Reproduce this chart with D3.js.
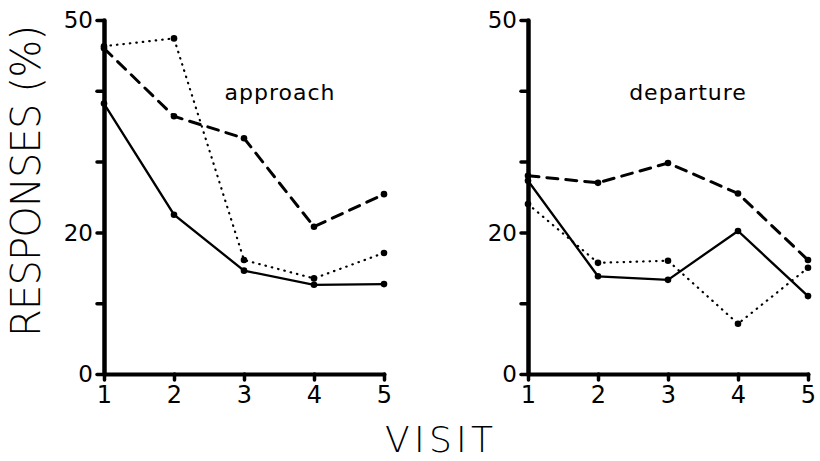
<!DOCTYPE html>
<html>
<head>
<meta charset="utf-8">
<script src="https://cdn.jsdelivr.net/npm/d3@7"></script>
<style>
  body { margin: 0; background: #fff; }
  svg text { font-family: "DejaVu Sans", sans-serif; fill: #000; }
</style>
</head>
<body>
<div id="chart"></div>
<script>
// Data
const visits = [1, 2, 3, 4, 5];
const yTicks = [0, 10, 20, 30, 40, 50];
const yLabels = [0, 20, 50];

const approachSolid  = [38.2, 22.5, 14.6, 12.6, 12.7];
const approachDashed = [46.0, 36.4, 33.3, 20.8, 25.4];
const approachDotted = [46.3, 47.4, 16.1, 13.5, 17.1];

const departureSolid  = [27.3, 13.8, 13.3, 20.2, 11.0];
const departureDashed = [28.0, 27.0, 29.8, 25.5, 16.1];
const departureDotted = [24.0, 15.7, 16.0, 7.1, 15.0];

const panels = [
  {title: "approach", left: 104, titleX: 280,
   series: [{v: approachSolid, style: "solid"}, {v: approachDashed, style: "dashed"}, {v: approachDotted, style: "dotted"}]},
  {title: "departure", left: 528, titleX: 688,
   series: [{v: departureSolid, style: "solid"}, {v: departureDashed, style: "dashed"}, {v: departureDotted, style: "dotted"}]}
];

const width = 820, height = 461;
const svg = d3.select("#chart").append("svg")
  .attr("width", width)
  .attr("height", height);

const y = d3.scaleLinear().domain([0, 50]).range([374, 20]);

const lineStyles = {
  solid:  {w: 2.3, dash: null},
  dashed: {w: 3,   dash: "11,8"},
  dotted: {w: 2.2, dash: "0.5,6"}
};

panels.forEach(p => {
  const x = d3.scaleLinear().domain([1, 5]).range([p.left, p.left + 280]);
  const g = svg.append("g");

  // y axis
  const ya = g.append("g")
    .attr("transform", `translate(${p.left},0)`)
    .call(d3.axisLeft(y).tickValues(yTicks).tickSize(7).tickSizeOuter(0)
      .tickFormat(d => yLabels.includes(d) ? d : ""));
  ya.select(".domain").attr("stroke-width", 4.5).attr("stroke-linecap", "round");
  ya.selectAll(".tick line").attr("stroke-width", 3.5).attr("stroke-linecap", "round");
  ya.selectAll(".tick text").attr("font-size", 23).attr("x", -11).attr("dy", "0.34em");

  // x axis
  const xa = g.append("g")
    .attr("transform", `translate(0,${y(0)})`)
    .call(d3.axisBottom(x).tickValues(visits).tickSize(6).tickSizeOuter(0).tickFormat(d3.format("d")));
  xa.select(".domain").attr("stroke-width", 4).attr("stroke-linecap", "round");
  xa.selectAll(".tick line").attr("stroke-width", 3.5).attr("stroke-linecap", "round");
  xa.selectAll(".tick text").attr("font-size", 24).attr("y", 12).attr("dy", "0.71em");

  // series
  const line = d3.line().x((d, i) => x(visits[i])).y(d => y(d));
  p.series.forEach(s => {
    const st = lineStyles[s.style];
    g.append("path")
      .datum(s.v)
      .attr("d", line)
      .attr("fill", "none")
      .attr("stroke", "#000")
      .attr("stroke-width", st.w)
      .attr("stroke-linecap", "round")
      .attr("stroke-dasharray", st.dash);
    g.selectAll(null)
      .data(s.v)
      .enter()
      .append("circle")
      .attr("cx", (d, i) => x(visits[i]))
      .attr("cy", d => y(d))
      .attr("r", 3.3)
      .attr("fill", "#000");
  });

  g.append("text")
    .attr("x", p.titleX)
    .attr("y", 100)
    .attr("text-anchor", "middle")
    .attr("font-size", 22)
    .attr("letter-spacing", 1)
    .text(p.title);
});

// axis titles
svg.append("text")
  .attr("transform", "translate(40,181) rotate(-90)")
  .attr("text-anchor", "middle")
  .attr("font-size", 40)
  .attr("font-weight", 200)
  .attr("textLength", 312)
  .attr("lengthAdjust", "spacing")
  .text("RESPONSES (%)");

svg.append("text")
  .attr("x", 439)
  .attr("y", 452)
  .attr("text-anchor", "middle")
  .attr("font-size", 36)
  .attr("font-weight", 200)
  .attr("textLength", 108)
  .attr("lengthAdjust", "spacing")
  .text("VISIT");
</script>
</body>
</html>
